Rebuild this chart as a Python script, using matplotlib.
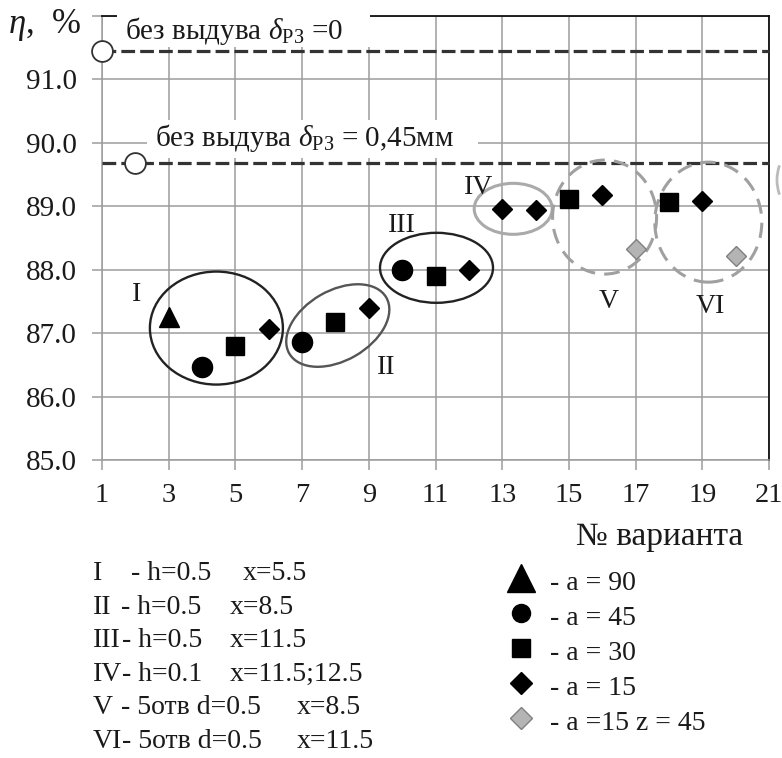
import matplotlib
matplotlib.use('Agg')
import matplotlib.pyplot as plt
from matplotlib.patches import Ellipse, Rectangle, Arc
from matplotlib.transforms import ScaledTranslation

plt.rcParams['font.family'] = ['Liberation Serif', 'DejaVu Serif']
plt.rcParams['mathtext.fontset'] = 'custom'
plt.rcParams['mathtext.rm'] = 'Liberation Serif'
plt.rcParams['mathtext.it'] = 'Liberation Serif:italic'
plt.rcParams['mathtext.bf'] = 'Liberation Serif:bold'

# ---------------- data ----------------
x_a90 = [3]
y_a90 = [87.26]
x_a45 = [4, 7, 10]
y_a45 = [86.46, 86.86, 87.99]
x_a30 = [5, 8, 11, 15, 18]
y_a30 = [86.79, 87.18, 87.90, 89.11, 89.06]
x_a15 = [6, 9, 12, 13, 14, 16, 19]
y_a15 = [87.07, 87.39, 87.99, 88.96, 88.94, 89.18, 89.08]
x_a15z = [17, 20]
y_a15z = [88.33, 88.21]

ref_x = [1, 2]
ref_y = [91.45, 89.69]
ref_labels = ['без выдува $\\delta_{\\mathrm{РЗ}}$ =0',
              'без выдува $\\delta_{\\mathrm{РЗ}}$ = 0,45мм']

x_ticks = list(range(1, 22, 2))
y_ticks = [85, 86, 87, 88, 89, 90, 91, 92]
y_ticklabels = ['85.0', '86.0', '87.0', '88.0', '89.0', '90.0', '91.0', '']

# group ellipses: name, center x, center y, width px, height px, angle, color, style
group_names = ['I', 'II', 'III', 'IV', 'V', 'VI']
group_cx = [4.43, 8.07, 11.03, 13.33, 16.07, 19.18]
group_cy = [87.08, 87.12, 88.03, 88.96, 88.83, 88.75]
group_w = [133, 112, 113, 78, 104, 107]
group_h = [113, 70, 70, 51, 114, 120]
group_ang = [0, 30, 0, 0, 0, 0]
group_col = ['#222222', '#555555', '#222222', '#aaaaaa', '#a0a0a0', '#a0a0a0']
group_dashed = [False, False, False, False, True, True]
label_x = [2.05, 9.52, 9.99, 12.30, 16.20, 19.23]
label_y = [87.61, 86.46, 88.70, 89.30, 87.50, 87.42]

legend_left_rows = [
    ('I', '- h=0.5', 'x=5.5'),
    ('II', '- h=0.5', 'x=8.5'),
    ('III', '- h=0.5', 'x=11.5'),
    ('IV', '- h=0.1', 'x=11.5;12.5'),
    ('V', '- 5отв d=0.5', 'x=8.5'),
    ('VI', '- 5отв d=0.5', 'x=11.5'),
]
legend_right_labels = ['- a = 90', '- a = 45', '- a = 30', '- a = 15', '- a =15 z = 45']

W, H = 782, 758
fig = plt.figure(figsize=(W / 100, H / 100), dpi=100)
ax = fig.add_axes([102 / W, 1 - 460 / H, (769 - 102) / W, (460 - 16) / H])
ax.set_xlim(1, 21)
ax.set_ylim(85, 92)
ax.set_xticks(x_ticks)
ax.set_yticks(y_ticks)
ax.set_yticklabels(y_ticklabels)
ax.grid(True, color='#9c9c9c', lw=1.1)
ax.set_axisbelow(True)
ax.tick_params(axis='both', length=7.2, width=1.1, color='#9c9c9c', labelsize=21,
               labelcolor='#1a1a1a')
ax.tick_params(axis='x', pad=9, labelsize=20.5)
ax.tick_params(axis='y', pad=11)
for s in ['left', 'bottom']:
    ax.spines[s].set_color('#9c9c9c')
    ax.spines[s].set_linewidth(1.1)
for s in ['top', 'right']:
    ax.spines[s].set_color('#111111')
    ax.spines[s].set_linewidth(1.3)

# reference dashed lines
for xv, yv in zip(ref_x, ref_y):
    ax.plot([1, 21], [yv, yv], ls=(0, (4.3, 1.6)), lw=2.3, color='#333333', zorder=3,
            clip_on=False, solid_capstyle='butt', dash_capstyle='butt')
ax.plot(ref_x, ref_y, ls='none', marker='o', ms=15, mfc='white', mec='#333333',
        mew=1.3, zorder=6, clip_on=False)

# group ellipses (size in pixels, centered on data coords)
for cx, cy, w, h, a, c, d in zip(group_cx, group_cy, group_w, group_h, group_ang,
                                 group_col, group_dashed):
    tr = fig.dpi_scale_trans + ScaledTranslation(cx, cy, ax.transData)
    e = Ellipse((0, 0), w / 100, h / 100, angle=a, transform=tr, fill=False,
                edgecolor=c, lw=2.2 if d or c == '#aaaaaa' else 1.7,
                ls=(0, (5, 3)) if d else '-', zorder=4)
    ax.add_patch(e)
for nm, lx, ly in zip(group_names, label_x, label_y):
    ax.text(lx, ly, nm, fontsize=20, ha='center', va='center', color='#1a1a1a', zorder=5)

# data markers
ax.plot(x_a90, y_a90, ls='none', marker='^', ms=14, color='black', zorder=7)
ax.plot(x_a45, y_a45, ls='none', marker='o', ms=14.5, color='black', zorder=7)
ax.plot(x_a30, y_a30, ls='none', marker='s', ms=13.5, color='black', zorder=7)
ax.plot(x_a15, y_a15, ls='none', marker='D', ms=10.2, color='black', zorder=7)
ax.plot(x_a15z, y_a15z, ls='none', marker='D', ms=10, mfc='#b4b4b4', mec='#808080',
        mew=1.0, zorder=7)

# overlay in pixel coordinates for annotations/legends
lax = fig.add_axes([0, 0, 1, 1])
lax.set_xlim(0, W)
lax.set_ylim(H, 0)
lax.axis('off')

lax.add_patch(Rectangle((117, 4), 253, 43, fc='white', ec='none'))
lax.add_patch(Rectangle((147, 120), 331, 38, fc='white', ec='none'))
lax.text(125, 31, ref_labels[0], fontsize=21, ha='left', va='center', color='#1a1a1a')
lax.text(155, 138, ref_labels[1], fontsize=21, ha='left', va='center', color='#1a1a1a')

lax.text(8, 25, '$\\eta$,  %', fontsize=25, ha='left', va='center', color='#1a1a1a')
lax.text(743, 545, '№ варианта', fontsize=24, ha='right', va='baseline', color='#1a1a1a')

# left legend (groups)
left_x = [(93, 131, 243), (93, 121, 230), (93, 122, 230), (93, 122, 230),
          (93, 121, 297), (93, 122, 297)]
for i, (row, xs) in enumerate(zip(legend_left_rows, left_x)):
    yb = 580 + 33.6 * i
    for t, xx in zip(row, xs):
        lax.text(xx, yb, t, fontsize=20, ha='left', va='baseline', color='#1a1a1a')

# right legend (markers)
mk = [dict(marker='^', ms=20, color='black'),
      dict(marker='o', ms=13, color='black'),
      dict(marker='s', ms=13, color='black'),
      dict(marker='D', ms=11.2, color='black'),
      dict(marker='D', ms=11.7, mfc='#b4b4b4', mec='#808080', mew=1.0)]
for i, (lab, m) in enumerate(zip(legend_right_labels, mk)):
    yb = 590 + 35 * i
    lax.plot([521], [yb - 12], ls='none', **m)
    lax.text(550, yb, lab, fontsize=20, ha='left', va='baseline', color='#1a1a1a')

lax.add_patch(Arc((805, 180), 56, 70, theta1=150, theta2=210, color='#bbbbbb', lw=2))

fig.savefig('out.png', dpi=100)
